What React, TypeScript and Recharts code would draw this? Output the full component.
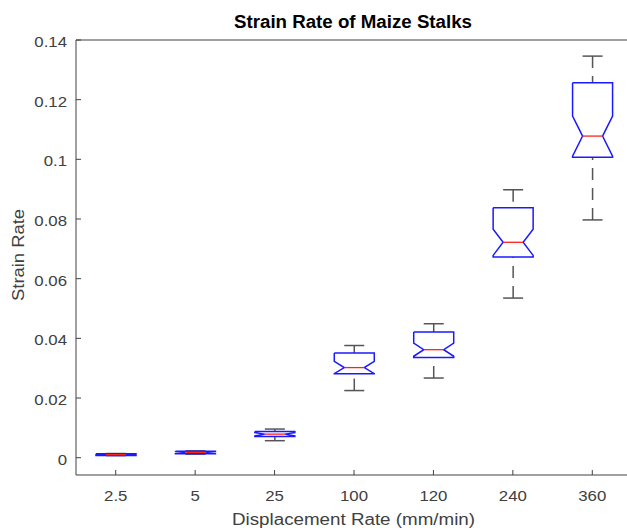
import React from "react";
import { Bar, ComposedChart, Customized, XAxis, YAxis } from "recharts";

const labels = ["2.5", "5", "25", "100", "120", "240", "360"];
const whiskerLow = [0.0007, 0.0012, 0.0057, 0.0225, 0.0267, 0.0535, 0.0797];
const q1 = [0.0007, 0.0013, 0.0071, 0.0281, 0.0336, 0.0673, 0.1007];
const notchLow = [0.0008, 0.0014, 0.0073, 0.0282, 0.034, 0.0678, 0.1011];
const median = [0.001, 0.0018, 0.0079, 0.0302, 0.0362, 0.0722, 0.1078];
const notchHigh = [0.0012, 0.0021, 0.0084, 0.0323, 0.0384, 0.0766, 0.1145];
const q3 = [0.0013, 0.0022, 0.0088, 0.0351, 0.0421, 0.0838, 0.1257];
const whiskerHigh = [0.0014, 0.0023, 0.0096, 0.0376, 0.0449, 0.0898, 0.1346];
const yTicks = [0, 0.02, 0.04, 0.06, 0.08, 0.1, 0.12, 0.14];

const FONT = "'Liberation Sans', Arial, sans-serif";
const AXIS = "#404040";
const BLUE = "#1a1aff";
const WHISKER = "#555555";

const data = labels.map((label, i) => ({
  label,
  lo: whiskerLow[i],
  q1: q1[i],
  nLo: notchLow[i],
  med: median[i],
  nHi: notchHigh[i],
  q3: q3[i],
  hi: whiskerHigh[i],
}));

// range bar gives the whisker span in pixels; everything else is placed on that same scale
function BoxShape(props: any) {
  const { x, y, width, height, payload } = props;
  const top = Math.min(y, y + height);
  const bottom = Math.max(y, y + height);
  const span = payload.hi - payload.lo || 1;
  const py = (v: number) => bottom - ((bottom - top) * (v - payload.lo)) / span;
  const cx = x + width / 2;
  const l = x;
  const r = x + width;
  const nl = cx - width / 4;
  const nr = cx + width / 4;
  const yq1 = py(payload.q1);
  const yq3 = py(payload.q3);
  const yMed = py(payload.med);
  const yNLo = py(payload.nLo);
  const yNHi = py(payload.nHi);
  const yLo = py(payload.lo);
  const yHi = py(payload.hi);
  const outline = [
    [l, yq3], [r, yq3], [r, yNHi], [nr, yMed], [r, yNLo], [r, yq1],
    [l, yq1], [l, yNLo], [nl, yMed], [l, yNHi], [l, yq3],
  ]
    .map((p) => p.join(","))
    .join(" ");
  return (
    <g>
      {/* whiskers dashed from the cap toward the box */}
      <line x1={cx} x2={cx} y1={yHi} y2={yq3} stroke={WHISKER} strokeWidth={1.5} strokeDasharray="12 8" />
      <line x1={cx} x2={cx} y1={yLo} y2={yq1} stroke={WHISKER} strokeWidth={1.5} strokeDasharray="12 8" />
      <line x1={nl} x2={nr} y1={yHi} y2={yHi} stroke={WHISKER} strokeWidth={1.5} />
      <line x1={nl} x2={nr} y1={yLo} y2={yLo} stroke={WHISKER} strokeWidth={1.5} />
      <polyline points={outline} fill="none" stroke={BLUE} strokeWidth={1.5} strokeLinejoin="miter" />
      <line x1={nl} x2={nr} y1={yMed} y2={yMed} stroke="#ff2020" strokeWidth={1.3} />
    </g>
  );
}

function XTick({ x, y, payload }: any) {
  return (
    <text transform={`translate(${x},${y + 31}) scale(1.12,1)`} textAnchor="middle" fill={AXIS} fontSize={15} fontFamily={FONT}>
      {payload.value}
    </text>
  );
}

function YTick({ x, y, payload }: any) {
  const v = payload.value;
  return (
    <text transform={`translate(${x - 14},${y + 7}) scale(1.12,1)`} textAnchor="end" fill={AXIS} fontSize={15} fontFamily={FONT}>
      {v === 0 ? "0" : String(v)}
    </text>
  );
}

function Titles() {
  return (
    <g fontFamily={FONT}>
      <text x={353} y={28} textAnchor="middle" fontSize={18} fontWeight="bold" fill="#000" textLength={238} lengthAdjust="spacingAndGlyphs">
        Strain Rate of Maize Stalks
      </text>
      <text x={353.5} y={525} textAnchor="middle" fontSize={16} fill={AXIS} textLength={243} lengthAdjust="spacingAndGlyphs">
        Displacement Rate (mm/min)
      </text>
      <text transform="translate(24,255) rotate(-90)" textAnchor="middle" fontSize={17} fill={AXIS} textLength={92} lengthAdjust="spacingAndGlyphs">
        Strain Rate
      </text>
    </g>
  );
}

export default function App() {
  return (
    <div style={{ position: "absolute", left: 0, top: 0, width: 627, height: 531, overflow: "hidden", background: "#fff" }}>
      <ComposedChart width={640} height={531} data={data} margin={{ top: 39, right: 8, bottom: 0, left: 0 }}>
        <XAxis
          xAxisId="top"
          orientation="top"
          dataKey="label"
          height={1}
          tick={false}
          tickSize={-5}
          axisLine={{ stroke: AXIS }}
          tickLine={{ stroke: AXIS }}
        />
        <XAxis
          dataKey="label"
          height={56}
          tick={<XTick />}
          tickSize={-5}
          tickMargin={0}
          axisLine={{ stroke: AXIS }}
          tickLine={{ stroke: AXIS }}
          interval={0}
        />
        <YAxis
          width={76}
          type="number"
          domain={[-0.0058, 0.14]}
          allowDataOverflow
          ticks={yTicks}
          tick={<YTick />}
          tickSize={-5}
          tickMargin={0}
          axisLine={{ stroke: AXIS }}
          tickLine={{ stroke: AXIS }}
        />
        <Bar dataKey={(d: any) => [d.lo, d.hi]} barSize={40} shape={<BoxShape />} isAnimationActive={false} />
        <Customized component={<Titles />} />
      </ComposedChart>
    </div>
  );
}
